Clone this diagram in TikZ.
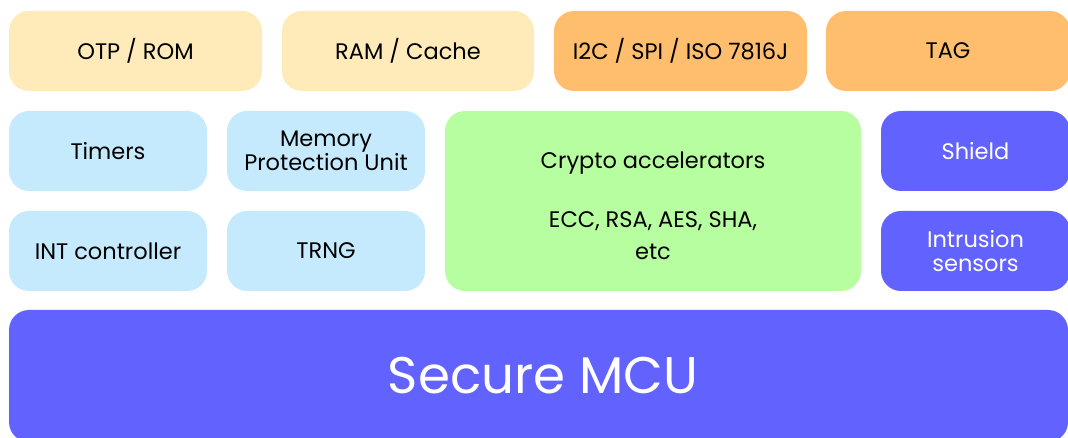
\documentclass[tikz,border=0pt]{standalone}
\usepackage{fontspec}
\setmainfont{Poppins}
\definecolor{memyellow}{HTML}{FEEBB9}
\definecolor{ioorange}{HTML}{FEBE6E}
\definecolor{periblue}{HTML}{C5EAFD}
\definecolor{cryptogreen}{HTML}{B7FEA0}
\definecolor{secviolet}{HTML}{6262FF}
\begin{document}
\begin{tikzpicture}[x=1pt,y=-1pt,
  block/.style={rounded corners=20pt, inner sep=0pt, align=center,
    font=\fontsize{22.5}{24.5}\selectfont, text=black},
  memblock/.style={block, fill=memyellow},
  ioblock/.style={block, fill=ioorange},
  periblock/.style={block, fill=periblue},
  cryptoblock/.style={block, fill=cryptogreen},
  secblock/.style={block, fill=secviolet, text=white}]
  \useasboundingbox (0,0) rectangle (1068,438);
  \clip (0,0) rectangle (1068,438);
  % top row: memories and interfaces
  \node[memblock, minimum width=253pt, minimum height=80pt] (otp) at (135.5,51) {OTP / ROM};
  \node[memblock, minimum width=252pt, minimum height=80pt] (ram) at (408,51) {RAM / Cache};
  \node[ioblock, minimum width=253pt, minimum height=80pt] (bus) at (680.5,51) {I2C / SPI / ISO 7816J};
  \node[ioblock, minimum width=244pt, minimum height=80pt] (tag) at (948,51) {TAG};
  % peripherals
  \node[periblock, minimum width=198pt, minimum height=80pt] (timers) at (108,151) {Timers};
  \node[periblock, minimum width=198pt, minimum height=80pt] (mpu) at (326,151) {Memory\\Protection Unit};
  \node[periblock, minimum width=198pt, minimum height=80pt] (intc) at (108,251) {INT controller};
  \node[periblock, minimum width=198pt, minimum height=80pt] (trng) at (326,251) {TRNG};
  % crypto engine
  \node[cryptoblock, minimum width=416pt, minimum height=180pt] (crypto) at (653,201) {};
  \node[block] (cryptotitle) at (653,163) {Crypto accelerators};
  \node[block, font=\fontsize{22.5}{32}\selectfont] (cryptoalgs) at (653,236) {ECC, RSA, AES, SHA,\\etc};
  % tamper protection
  \node[secblock, minimum width=189pt, minimum height=80pt] (shield) at (975.5,151) {Shield};
  \node[secblock, minimum width=189pt, minimum height=80pt] (intr) at (975.5,251) {Intrusion\\sensors};
  % core
  \node[secblock, minimum width=1059pt, minimum height=132pt] (mcu) at (538.5,376) {};
  \node[block, text=white, font=\fontsize{51.5}{60}\selectfont] (mcutitle) at (543,376) {Secure MCU};
\end{tikzpicture}
\end{document}
